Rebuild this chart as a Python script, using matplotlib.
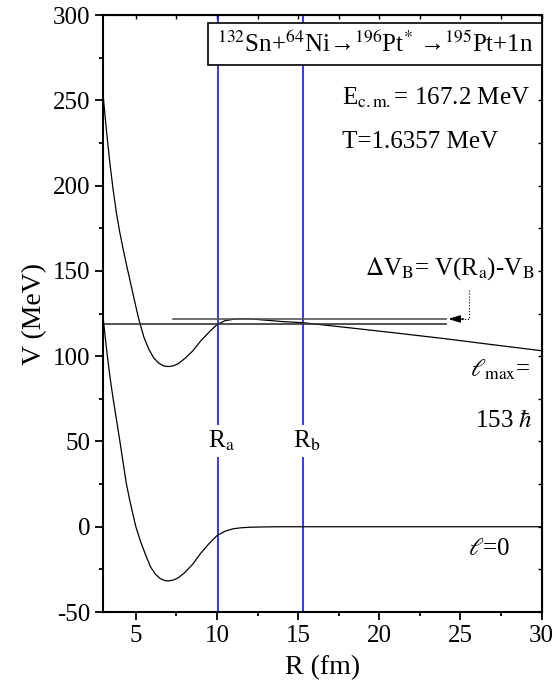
import numpy as np
import matplotlib
matplotlib.use("Agg")
import matplotlib.pyplot as plt

plt.rcParams['font.family'] = ['Liberation Serif', 'DejaVu Serif']
plt.rcParams['mathtext.fontset'] = 'stix'
plt.rcParams['axes.unicode_minus'] = False

# potential for l = l_max
r_lmax = [3.0, 3.2, 3.4, 3.6, 3.8, 4.0, 4.2, 4.4, 4.6, 4.8, 5.0, 5.2, 5.5, 5.8,
          6.1, 6.4, 6.7, 7.0, 7.3, 7.6, 8.0, 8.5, 9.0, 9.5, 10.0, 10.5, 11.0,
          11.5, 12.0, 12.5, 13.0, 14.0, 15.3, 18.0, 21.0, 24.0, 27.0, 30.0]
v_lmax = [251, 231, 213, 197.5, 184, 173, 163.5, 154.5, 146, 137.5, 129, 121, 111, 104,
          99, 96, 94.3, 93.9, 94.3, 95.5, 98.5, 103, 109, 114, 118.5, 120.8, 121.6,
          122, 121.9, 121.5, 121.1, 120.3, 119.6, 116.8, 113.6, 110.3, 106.7, 103.2]

# potential for l = 0
r_l0 = [3.0, 3.2, 3.4, 3.6, 3.8, 4.0, 4.2, 4.4, 4.6, 4.8, 5.0, 5.3, 5.6, 5.9,
        6.2, 6.5, 6.8, 7.0, 7.3, 7.6, 8.0, 8.5, 9.0, 9.5, 10.0, 10.5, 11.0,
        11.5, 12.0, 13.0, 14.0, 30.0]
v_l0 = [121, 103.5, 88, 75, 63, 51, 38.5, 26, 16.5, 8, 0, -9, -16.5, -23.5,
        -27.8, -30.4, -31.6, -31.8, -31.3, -30, -27, -22, -15.5, -10, -5.2, -2.6, -1.2,
        -0.6, -0.3, -0.1, 0, 0]

ra = 10.06
rb = 15.3
v_ra = 121.8   # V(Ra)
v_b = 118.7    # VB
r_line_end = 24.1
r_upper_start = 7.26

fig = plt.figure(figsize=(5.56, 6.95), dpi=100)
ax = fig.add_axes([0.186, 0.1194, 0.788, 0.8590])

ax.plot(r_lmax, v_lmax, color='k', lw=0.9)
ax.plot(r_l0, v_l0, color='k', lw=0.9)

ax.axvline(ra, color='#0000ff', lw=1.1, zorder=1)
ax.axvline(rb, color='#0000ff', lw=1.1, zorder=1)

ax.plot([3, r_line_end], [v_b, v_b], color='#333333', lw=1.2)
ax.plot([r_upper_start, r_line_end], [v_ra, v_ra], color='#555555', lw=1.2)

# dotted pointer with arrow
ax.plot([25.5, 25.5, 24.9], [139, v_ra, v_ra], color='k', lw=0.8, ls=':')
ax.annotate('', xy=(24.25, v_ra), xytext=(25.2, v_ra),
            arrowprops=dict(arrowstyle='-|>,head_length=0.7,head_width=0.22',
                            color='k', lw=1, shrinkA=0, shrinkB=0))

ax.set_xlim(3, 30)
ax.set_ylim(-50, 300)
ax.set_xticks([5, 10, 15, 20, 25, 30])
ax.set_xticks(np.arange(5, 30, 2.5), minor=True)
ax.set_yticks(np.arange(-50, 301, 50))
ax.set_yticks(np.arange(-50, 301, 25), minor=True)
ax.tick_params(which='major', direction='out', length=6, width=1.3, labelsize=18)
ax.tick_params(which='minor', direction='out', length=3, width=1.3)
for s in ax.spines.values():
    s.set_linewidth(1.5)

top = ax.secondary_xaxis('top')
top.set_xticks(np.arange(5, 30.1, 2.5))
top.tick_params(direction='in', length=3, width=1, labeltop=False)
right = ax.secondary_yaxis('right')
right.set_yticks(np.arange(-50, 301, 25))
right.tick_params(direction='in', length=3, width=1, labelright=False)

ax.set_xlabel('R (fm)', fontsize=20, labelpad=6)
ax.set_ylabel('V (MeV)', fontsize=20, labelpad=4)

ax.text(10.0, 283,
        r'$^{132}$Sn+$^{64}$Ni→$^{196}$Pt$^{*}$ →$^{195}$Pt+1n',
        fontsize=18, ha='left', va='center',
        bbox=dict(boxstyle='square,pad=0.35', facecolor='white', edgecolor='k', lw=1.2))
ax.text(17.69, 247.2, r'E$_{\rm c.m.}$= 167.2 MeV', fontsize=18, va='baseline')
ax.text(17.69, 222, 'T=1.6357 MeV', fontsize=18, va='baseline')
ax.text(19.1, 147.6, r'$\Delta$V$_{\rm B}$= V(R$_{\rm a}$)-V$_{\rm B}$', fontsize=18,
        va='baseline')
ax.text(25.6, 87.8, r'$\ell_{\rm max}$=', fontsize=18, va='baseline')
ax.text(25.88, 58.5, r'153 $\hbar$', fontsize=18, va='baseline')
ax.text(25.45, -16.5, r'$\ell$=0', fontsize=18, va='baseline')

lab = dict(fontsize=18, ha='center', va='baseline',
           bbox=dict(boxstyle='square,pad=0.15', facecolor='white', edgecolor='none'))
ax.text(ra + 0.2, 46.2, r'R$_{\rm a}$', **lab)
ax.text(rb + 0.2, 46.2, r'R$_{\rm b}$', **lab)

fig.savefig('out.png', dpi=100)
